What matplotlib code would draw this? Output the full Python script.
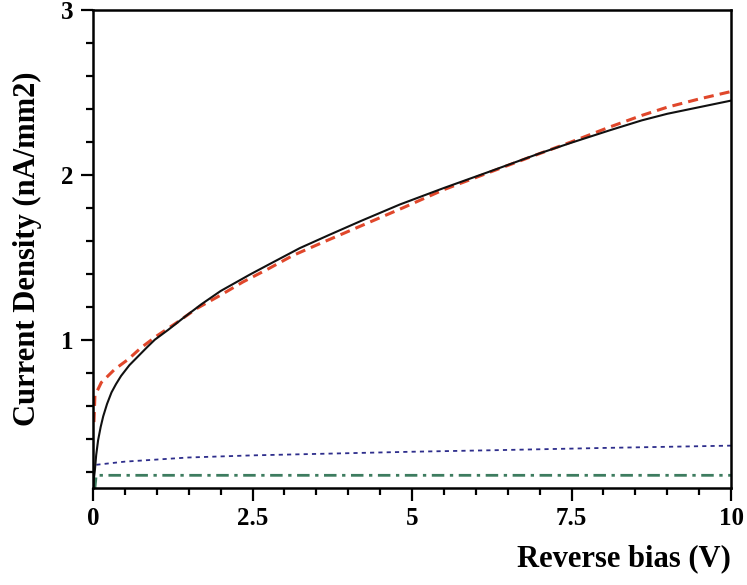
import numpy as np
import matplotlib
matplotlib.use('Agg')
import matplotlib.pyplot as plt
from matplotlib.ticker import MultipleLocator

# ==================================================================
# DATA

# total measured current (black, solid)
x_total = [0.0, 0.015, 0.03, 0.05, 0.08, 0.12, 0.16, 0.22, 0.29, 0.36, 0.44, 0.57, 0.71, 0.85,
           0.97, 1.18, 1.41, 1.7, 2.0, 2.46, 2.8, 3.24, 3.7, 4.2, 4.81, 5.5, 6.22, 7.0, 7.5,
           8.1, 8.6, 9.0, 9.5, 10.0]
y_total = [0.10, 0.16, 0.21, 0.30, 0.39, 0.47, 0.535, 0.61, 0.68, 0.73, 0.78, 0.845, 0.90, 0.955,
           1.0, 1.06, 1.13, 1.215, 1.295, 1.395, 1.465, 1.555, 1.635, 1.72, 1.82, 1.92, 2.02, 2.13, 2.195,
           2.27, 2.33, 2.37, 2.41, 2.45]

# fit (red, dashed)
x_fit = [0.015, 0.03, 0.13, 0.34, 0.55, 0.75, 0.99, 1.3, 1.63, 2.0, 2.35, 2.75, 3.13, 3.6,
         4.2, 4.86, 5.5, 6.18, 6.8, 7.5, 8.1, 8.6, 9.0, 9.5, 10.0]
y_fit = [0.50, 0.66, 0.74, 0.82, 0.88, 0.95, 1.02, 1.10, 1.19, 1.27, 1.35, 1.43, 1.51, 1.59,
         1.69, 1.80, 1.91, 2.01, 2.10, 2.20, 2.29, 2.36, 2.41, 2.46, 2.505]

# diffusion component (blue, dotted)
x_diff = [0.0, 0.03, 0.5, 1.49, 2.5, 5.0, 6.38, 8.0, 10.0]
y_diff = [0.20, 0.24, 0.26, 0.285, 0.298, 0.32, 0.33, 0.343, 0.357]

# surface component (green, dash-dot)
x_surf = [0.0, 0.03, 0.05, 10.0]
y_surf = [0.10, 0.10, 0.177, 0.177]

xticks = [0, 2.5, 5, 7.5, 10]
xtick_labels = ['0', '2.5', '5', '7.5', '10']
yticks = [1, 2, 3]
ytick_labels = ['1', '2', '3']

# ==================================================================
# PLOT

plt.rcParams['font.family'] = ['Liberation Serif', 'DejaVu Serif']
plt.rcParams['font.weight'] = 'bold'

fig = plt.figure(figsize=(7.47, 5.85), dpi=100)
ax = fig.add_axes([0.1245, 0.1658, 0.8541, 0.8172])

ax.plot(x_surf, y_surf, color='#3d7c5f', lw=2.0, linestyle=(0, (4.5, 2, 1.2, 2)))
ax.plot(x_diff, y_diff, color='#2e2e8c', lw=1.3, linestyle=(0, (2.3, 2.3)))
ax.plot(x_fit, y_fit, color='#e0472b', lw=2.2, linestyle=(0, (3.3, 2)))
ax.plot(x_total, y_total, color='#111111', lw=1.5)

ax.set_xlim(0, 10)
ax.set_ylim(0.1, 3)

ax.set_xticks(xticks)
ax.set_xticklabels(xtick_labels)
ax.set_yticks(yticks)
ax.set_yticklabels(ytick_labels)
ax.xaxis.set_minor_locator(MultipleLocator(0.5))
ax.yaxis.set_minor_locator(MultipleLocator(0.2))

ax.tick_params(which='major', direction='out', length=9, width=1.6,
               labelsize=18, pad=5)
ax.tick_params(which='minor', direction='out', length=5, width=1.6)
ax.tick_params(top=False, right=False)

for s in ax.spines.values():
    s.set_linewidth(1.8)

ax.set_ylabel('Current Density (nA/mm2)', fontsize=22, fontweight='bold', labelpad=14)
ax.set_xlabel('Reverse bias (V)', fontsize=22, fontweight='bold', loc='right', labelpad=10)

plt.savefig('out.png', dpi=100)
